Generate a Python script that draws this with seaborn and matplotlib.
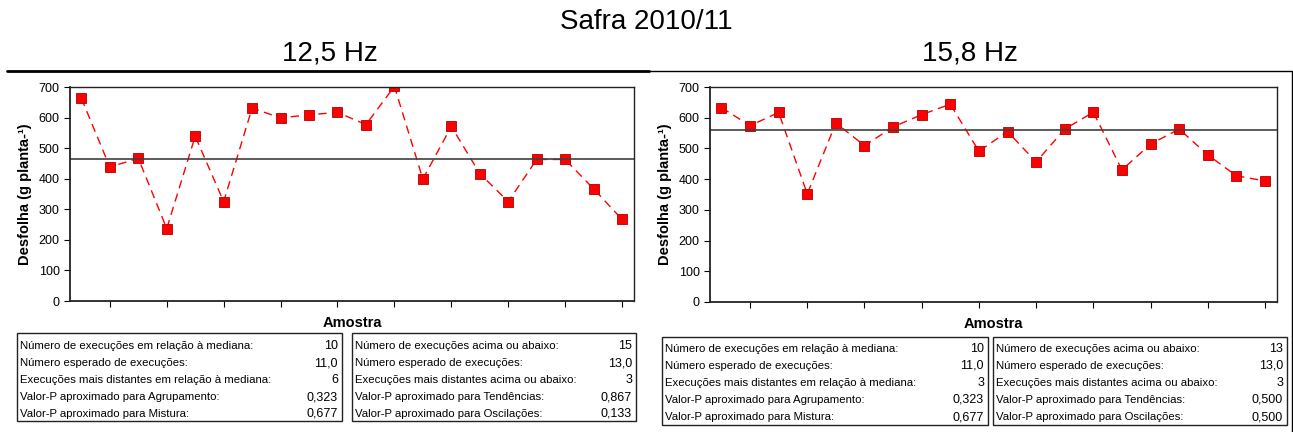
import matplotlib
matplotlib.use("Agg")
import matplotlib.pyplot as plt
from matplotlib.lines import Line2D
from matplotlib.patches import Rectangle
import seaborn as sns
import pandas as pd

sns.set_style("white")
plt.rcParams["font.family"] = ["Liberation Sans", "DejaVu Sans"]
plt.rcParams["text.color"] = "black"
plt.rcParams["axes.labelcolor"] = "black"

# ------------------------------------------------------------------ #
# Dados
# ------------------------------------------------------------------ #
amostra = list(range(1, 21))
desfolha_125 = [663, 438, 467, 237, 539, 325, 631, 599, 609, 617,
                577, 702, 399, 571, 417, 325, 463, 463, 367, 267]
desfolha_158 = [633, 574, 617, 352, 583, 509, 570, 610, 644, 491,
                555, 456, 563, 618, 430, 514, 563, 479, 411, 394]
mediana_125 = 463
mediana_158 = 559

titulo = "Safra 2010/11"
subtitulos = ["12,5 Hz", "15,8 Hz"]

rotulos_mediana = ["Número de execuções em relação à mediana:",
                   "Número esperado de execuções:",
                   "Execuções mais distantes em relação à mediana:",
                   "Valor-P aproximado para Agrupamento:",
                   "Valor-P aproximado para Mistura:"]
rotulos_acima = ["Número de execuções acima ou abaixo:",
                 "Número esperado de execuções:",
                 "Execuções mais distantes acima ou abaixo:",
                 "Valor-P aproximado para Tendências:",
                 "Valor-P aproximado para Oscilações:"]
valores_mediana_125 = ["10", "11,0", "6", "0,323", "0,677"]
valores_acima_125 = ["15", "13,0", "3", "0,867", "0,133"]
valores_mediana_158 = ["10", "11,0", "3", "0,323", "0,677"]
valores_acima_158 = ["13", "13,0", "3", "0,500", "0,500"]

W, H = 1293, 432
fig = plt.figure(figsize=(W / 100, H / 100), dpi=100)


def px_box(x0, y0, x1, y1):
    # pixel box (top-left origin) -> figure fraction [left, bottom, w, h]
    return [x0 / W, 1 - y1 / H, (x1 - x0) / W, (y1 - y0) / H]


def run_chart(box, valores, mediana):
    ax = fig.add_axes(px_box(*box))
    df = pd.DataFrame({"Amostra": amostra, "Desfolha": valores})
    sns.lineplot(data=df, x="Amostra", y="Desfolha", ax=ax, color="red",
                 marker="s", markersize=7.8, markeredgecolor="#b00000",
                 markeredgewidth=0.6, linewidth=1.0)
    ax.lines[0].set_dashes((6, 4))
    ax.axhline(mediana, color="#404040", linewidth=1.2)
    ax.set_xlim(0.6, 20.42)
    ax.set_ylim(0, 700)
    ax.set_yticks(range(0, 701, 100))
    ax.set_xticks(range(2, 21, 2))
    ax.set_xticklabels([])
    ax.tick_params(axis="both", direction="out", length=4, width=0.8,
                   colors="black", labelsize=9, bottom=True, left=True)
    ax.set_xlabel("Amostra", fontsize=10.5, fontweight="bold", labelpad=3)
    ax.set_ylabel("Desfolha (g planta-¹)", fontsize=10.5, fontweight="bold",
                  labelpad=5)
    for side, sp in ax.spines.items():
        sp.set_visible(True)
        sp.set_color("#222222")
        sp.set_linewidth(1.0 if side in ("top", "right") else 1.3)
    return ax


def stats_box(x0, y0, x1, y1, rotulos, valores, linhas_y):
    fig.add_artist(Rectangle((x0 / W, 1 - y1 / H), (x1 - x0) / W, (y1 - y0) / H,
                             transform=fig.transFigure, fill=False,
                             edgecolor="#222222", linewidth=1.0))
    for rot, val, yy in zip(rotulos, valores, linhas_y):
        fig.text((x0 + 3) / W, 1 - yy / H, rot, fontsize=8.2,
                 ha="left", va="center")
        fig.text((x1 - 4) / W, 1 - yy / H, val, fontsize=9,
                 ha="right", va="center")


run_chart((70, 87, 634, 301), desfolha_125, mediana_125)
run_chart((710, 87, 1277, 302), desfolha_158, mediana_158)

fig.text(0.5, 1 - 22 / H, titulo, fontsize=20, ha="center", va="center")
fig.text(330 / W, 1 - 54 / H, subtitulos[0], fontsize=20, ha="center", va="center")
fig.text(970 / W, 1 - 54 / H, subtitulos[1], fontsize=20, ha="center", va="center")

# molduras dos paineis
fig.add_artist(Line2D([7 / W, 649 / W], [1 - 71 / H, 1 - 71 / H],
                      transform=fig.transFigure, color="black", linewidth=2))
fig.add_artist(Line2D([649 / W, 1292 / W, 1292 / W],
                      [1 - 71 / H, 1 - 71 / H, 0],
                      transform=fig.transFigure, color="black", linewidth=1))

linhas_esq = [346, 363, 380, 397, 414]
linhas_dir = [349, 366, 383, 400, 417]
stats_box(17, 333, 342, 421, rotulos_mediana, valores_mediana_125, linhas_esq)
stats_box(352, 333, 636, 421, rotulos_acima, valores_acima_125, linhas_esq)
stats_box(662, 337, 988, 425, rotulos_mediana, valores_mediana_158, linhas_dir)
stats_box(993, 337, 1287, 425, rotulos_acima, valores_acima_158, linhas_dir)

fig.savefig("out.png", dpi=100)
plt.close(fig)
